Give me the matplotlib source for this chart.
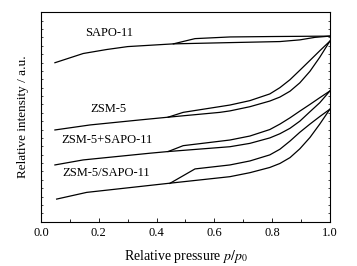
import numpy as np
import matplotlib.pyplot as plt
from matplotlib.ticker import MultipleLocator

plt.rcParams['font.family'] = ['Liberation Serif', 'DejaVu Serif']
plt.rcParams['mathtext.fontset'] = 'stix'

# isotherms (relative pressure, offset intensity)
sapo_ads_p = [0.048, 0.146, 0.227, 0.30, 0.458, 0.654, 0.827, 0.896, 0.948, 1.0]
sapo_ads_v = [75.9, 80.3, 82.2, 83.6, 84.9, 85.5, 86.0, 86.8, 88.0, 88.6]
sapo_des_p = [1.0, 0.80, 0.654, 0.533, 0.458]
sapo_des_v = [88.6, 88.4, 88.2, 87.4, 84.9]

zsm_ads_p = [0.048, 0.170, 0.343, 0.44, 0.619, 0.654, 0.723, 0.792, 0.827, 0.862,
             0.896, 0.931, 0.965, 1.0]
zsm_ads_v = [43.8, 46.2, 48.6, 49.9, 52.2, 52.9, 54.9, 57.6, 59.5, 62.3,
             66.3, 71.8, 78.5, 86.2]
zsm_des_p = [1.0, 0.965, 0.931, 0.896, 0.862, 0.827, 0.792, 0.723, 0.654, 0.492, 0.44]
zsm_des_v = [86.2, 81.6, 77.0, 72.3, 67.8, 64.0, 61.0, 57.8, 55.7, 52.2, 49.9]

mix_ads_p = [0.048, 0.146, 0.377, 0.44, 0.654, 0.723, 0.792, 0.827, 0.862,
             0.896, 0.931, 0.965, 1.0]
mix_ads_v = [27.1, 29.5, 32.7, 33.5, 35.8, 37.4, 40.0, 42.0, 44.6,
             48.0, 52.5, 56.8, 62.4]
mix_des_p = [1.0, 0.965, 0.931, 0.896, 0.862, 0.827, 0.792, 0.723, 0.654, 0.492, 0.44]
mix_des_v = [62.4, 59.2, 56.0, 52.8, 49.6, 46.6, 44.0, 40.9, 39.0, 36.3, 33.5]

comp_ads_p = [0.054, 0.158, 0.44, 0.654, 0.723, 0.792, 0.827, 0.862, 0.896,
              0.931, 0.965, 1.0]
comp_ads_v = [10.8, 14.0, 18.3, 21.5, 23.4, 25.9, 27.8, 30.6, 34.8,
              40.2, 46.6, 53.7]
comp_des_p = [1.0, 0.965, 0.931, 0.896, 0.862, 0.827, 0.792, 0.723, 0.654, 0.533, 0.446]
comp_des_v = [53.7, 50.2, 46.6, 42.7, 38.5, 34.6, 31.9, 29.0, 27.1, 25.2, 18.3]

labels = ['SAPO-11', 'ZSM-5', 'ZSM-5+SAPO-11', 'ZSM-5/SAPO-11']
label_p = [0.235, 0.232, 0.227, 0.224]
label_v = [87.4, 51.1, 36.0, 20.4]

fig = plt.figure(figsize=(3.57, 2.66), dpi=100)
ax = fig.add_axes([0.115, 0.1665, 0.809, 0.7875])

branches = [(sapo_ads_p, sapo_ads_v), (sapo_des_p, sapo_des_v),
            (zsm_ads_p, zsm_ads_v), (zsm_des_p, zsm_des_v),
            (mix_ads_p, mix_ads_v), (mix_des_p, mix_des_v),
            (comp_ads_p, comp_ads_v), (comp_des_p, comp_des_v)]
for p, v in branches:
    ax.plot(p, v, color='black', lw=0.9, solid_joinstyle='round')

for t, p, v in zip(labels, label_p, label_v):
    ax.text(p, v, t, fontsize=9, ha='center', va='bottom')

ax.set_xlim(0, 1.0)
ax.set_ylim(0, 100)
ax.xaxis.set_major_locator(MultipleLocator(0.2))
ax.xaxis.set_minor_locator(MultipleLocator(0.1))
ax.yaxis.set_major_locator(MultipleLocator(4))
ax.set_yticklabels([])
ax.tick_params(axis='x', which='both', direction='in', labelsize=9, pad=4)
ax.tick_params(axis='x', which='major', length=3, width=0.6)
ax.tick_params(axis='x', which='minor', length=2, width=0.6)
ax.tick_params(axis='y', which='major', direction='in', length=1.5, width=0.5,
               left=True, right=True)
for s in ax.spines.values():
    s.set_linewidth(0.8)

ax.set_xlabel('Relative pressure $\\mathit{p}/\\mathit{p}_0$', fontsize=10, labelpad=6)
ax.set_ylabel('Relative intensity / a.u.', fontsize=9.5, labelpad=5)

fig.savefig('out.png', dpi=100)
